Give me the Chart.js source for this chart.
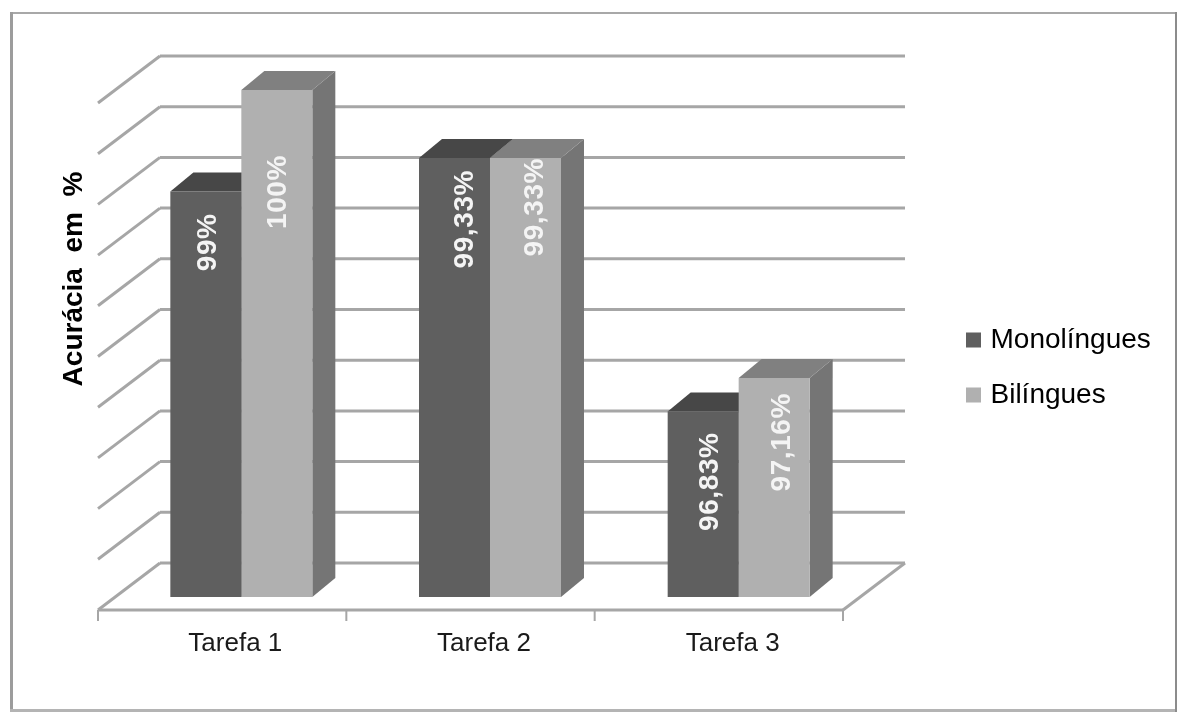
<!DOCTYPE html>
<html lang="pt">
<head>
<meta charset="utf-8">
<title>Acurácia em %</title>
<script src="https://cdn.jsdelivr.net/npm/chart.js@4/dist/chart.umd.min.js"></script>
<style>
  html, body { margin: 0; padding: 0; background: #fff; }
  canvas { display: block; }
</style>
</head>
<body>
<canvas id="accuracy-chart" width="1177" height="713"></canvas>
<script>
"use strict"

const tasks = ["Tarefa 1", "Tarefa 2", "Tarefa 3"];
const monolingues = [99, 99.33, 96.83];
const bilingues = [100, 99.33, 97.16];
const axisMin = 95;
const axisMax = 100;
const axisStep = 0.5;

// hand placed value labels: shift from bar centre, and distance below bar top
const labelShiftX = [[2, 11, 7], [1, 10, 8]];
const labelShiftY = [[22, 12, 21], [65, 0, 15]];

const FONT = "'Liberation Sans', Arial, sans-serif";
const GRID = "#a6a6a6";

// fake 3d: how far the back wall and the front edge sit from the bars
const WALL_X = 43, WALL_Y = 34;
const FRONT_X = 19, FRONT_Y = 13;
const BAR_DEPTH_X = 23, BAR_DEPTH_Y = 19;

const faces = [
  { front: "#5f5f5f", top: "#474747", side: "#4f4f4f" },
  { front: "#b0b0b0", top: "#808080", side: "#757575" }
];

function line(ctx, x1, y1, x2, y2) {
  ctx.beginPath();
  ctx.moveTo(x1, y1);
  ctx.lineTo(x2, y2);
  ctx.stroke();
}

function poly(ctx, color, pts) {
  ctx.fillStyle = color;
  ctx.beginPath();
  pts.forEach((p, i) => i ? ctx.lineTo(p[0], p[1]) : ctx.moveTo(p[0], p[1]));
  ctx.closePath();
  ctx.fill();
}

const framePlugin = {
  id: "frame",
  beforeDraw(chart) {
    const ctx = chart.ctx;
    ctx.save();
    ctx.fillStyle = "#a8a8a8";
    ctx.fillRect(10, 12, 1166, 2);
    ctx.fillStyle = "#9c9c9c";
    ctx.fillRect(10, 12, 3, 699);
    ctx.fillStyle = "#b4b4b4";
    ctx.fillRect(10, 709, 1166, 3);
    ctx.fillStyle = "#8c8c8c";
    ctx.fillRect(1175, 12, 2, 700);
    ctx.restore();
  }
};

const wallsPlugin = {
  id: "walls",
  beforeDatasetsDraw(chart) {
    const ctx = chart.ctx, y = chart.scales.y, a = chart.chartArea;
    const backLeft = a.left + WALL_X, backRight = a.right + WALL_X - 1;
    const frontLeft = a.left - FRONT_X, frontRight = a.right - FRONT_X - 1;
    ctx.save();
    ctx.strokeStyle = GRID;
    ctx.lineWidth = 3;
    y.ticks.forEach(t => {
      const py = y.getPixelForValue(t.value);
      line(ctx, backLeft, py - WALL_Y, backRight, py - WALL_Y);
      line(ctx, backLeft, py - WALL_Y, frontLeft, py + FRONT_Y);
    });
    // floor and category axis
    const floor = a.bottom + FRONT_Y;
    line(ctx, backRight, a.bottom - WALL_Y, frontRight, floor);
    line(ctx, frontLeft, floor, frontRight, floor);
    ctx.lineWidth = 2;
    const band = (frontRight - frontLeft) / tasks.length;
    for (let i = 0; i <= tasks.length; i++) {
      line(ctx, frontLeft + band * i, floor, frontLeft + band * i, floor + 11);
    }
    ctx.restore();
  }
};

const depthPlugin = {
  id: "depth",
  beforeDatasetsDraw(chart) {
    const ctx = chart.ctx;
    ctx.save();
    chart.data.datasets.forEach((ds, d) => {
      chart.getDatasetMeta(d).data.forEach(bar => {
        const l = bar.x - bar.width / 2, r = bar.x + bar.width / 2;
        const dx = BAR_DEPTH_X, dy = BAR_DEPTH_Y;
        poly(ctx, faces[d].side, [[r, bar.y], [r + dx, bar.y - dy], [r + dx, bar.base - dy], [r, bar.base]]);
        poly(ctx, faces[d].top, [[l, bar.y], [l + dx, bar.y - dy], [r + dx, bar.y - dy], [r, bar.y]]);
      });
    });
    ctx.restore();
  }
};

const valueLabels = {
  id: "valueLabels",
  afterDatasetsDraw(chart) {
    const ctx = chart.ctx;
    ctx.save();
    ctx.font = "bold 28px " + FONT;
    ctx.letterSpacing = "0.6px";
    ctx.fillStyle = "#f4f4f4";
    ctx.textAlign = "right";
    ctx.textBaseline = "middle";
    chart.data.datasets.forEach((ds, d) => {
      chart.getDatasetMeta(d).data.forEach((bar, i) => {
        ctx.save();
        ctx.translate(bar.x + labelShiftX[d][i], bar.y + labelShiftY[d][i]);
        ctx.rotate(-Math.PI / 2);
        ctx.fillText(String(ds.data[i]).replace(".", ",") + "%", 0, 0);
        ctx.restore();
      });
    });
    ctx.restore();
  },
  afterDraw(chart) {
    // axis title sits above the middle of the axis
    const ctx = chart.ctx;
    ctx.save();
    ctx.translate(74, 279);
    ctx.rotate(-Math.PI / 2);
    ctx.font = "bold 28px " + FONT;
    ctx.fillStyle = "#000";
    ctx.textAlign = "center";
    ctx.textBaseline = "middle";
    ctx.fillText("Acurácia  em  %", 0, 0);
    ctx.restore();
  }
};

// legend is taken out of the layout and parked right of the plot
const legendPlace = {
  id: "legendPlace",
  afterLayout(chart) {
    const l = chart.legend;
    l.left = 943.5;
    l.right = 1170;
    l.top = 299;
    l.bottom = 500;
  }
};

new Chart(document.getElementById("accuracy-chart"), {
  type: "bar",
  data: {
    labels: tasks,
    datasets: [
      { label: "Monolíngues", data: monolingues, backgroundColor: faces[0].front, base: axisMin },
      { label: "Bilíngues", data: bilingues, backgroundColor: faces[1].front, base: axisMin }
    ]
  },
  options: {
    responsive: false,
    animation: false,
    events: [],
    layout: { padding: { left: 0, top: 90, right: 314, bottom: 0 } },
    datasets: { bar: { categoryPercentage: 0.571, barPercentage: 1, borderWidth: 0 } },
    scales: {
      x: {
        grid: { display: false },
        border: { display: false },
        ticks: {
          color: "#1a1a1a",
          font: { family: FONT, size: 26 },
          padding: 23,
          labelOffset: -6,
          maxRotation: 0
        },
        afterFit(scale) { scale.height = 116; }
      },
      y: {
        min: axisMin,
        max: axisMax,
        grid: { display: false },
        border: { display: false },
        ticks: { display: false, stepSize: axisStep },
        afterFit(scale) { scale.width = 117; }
      }
    },
    plugins: {
      tooltip: { enabled: false },
      legend: {
        position: "chartArea",
        align: "start",
        labels: {
          color: "#111",
          font: { family: FONT, size: 28 },
          boxWidth: 6,
          boxHeight: 6,
          padding: 27,
          // thick outline makes the square bigger without widening the text gap
          generateLabels(chart) {
            return chart.data.datasets.map((ds, i) => ({
              text: ds.label,
              fillStyle: faces[i].front,
              strokeStyle: faces[i].front,
              lineWidth: 9,
              datasetIndex: i
            }));
          }
        }
      }
    }
  },
  plugins: [framePlugin, wallsPlugin, depthPlugin, valueLabels, legendPlace]
});
</script>
</body>
</html>
